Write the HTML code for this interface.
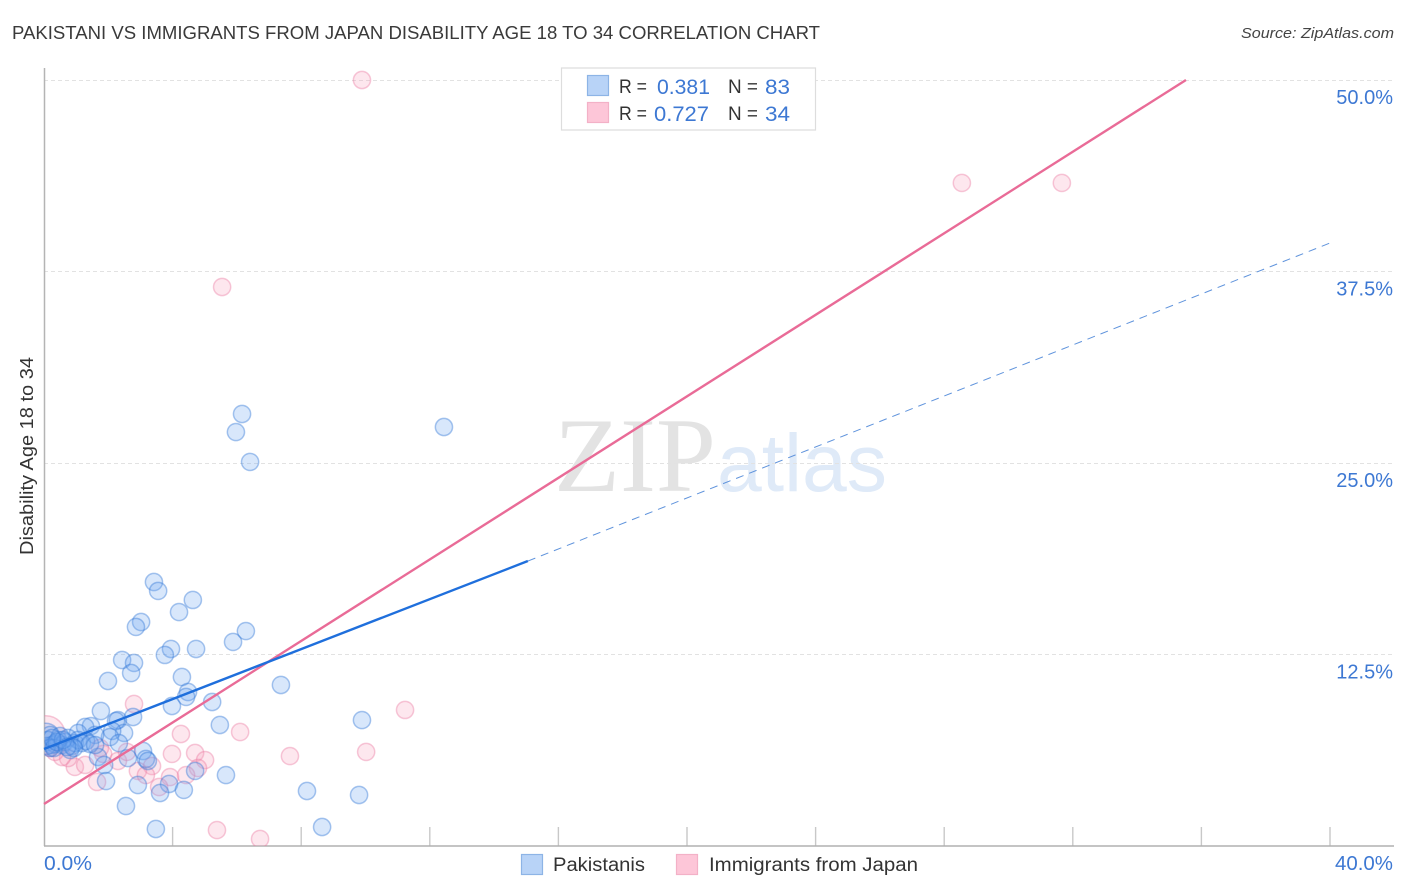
<!DOCTYPE html>
<html lang="en">
<head>
<meta charset="utf-8">
<title>Pakistani vs Immigrants from Japan Disability Age 18 to 34 Correlation Chart</title>
<style>
html,body{margin:0;padding:0;background:#fff;}
svg{display:block;font-family:"Liberation Sans",sans-serif;}
</style>
</head>
<body>
<svg id="chart" width="1406" height="892" viewBox="0 0 1406 892" xmlns="http://www.w3.org/2000/svg">
  <defs>
    <clipPath id="plot-clip"><rect x="44.5" y="60" width="1350" height="786"></rect></clipPath>
  </defs>
  <rect width="1406" height="892" fill="#ffffff"></rect>
  <text x="12" y="39" font-size="18.5" fill="#3a3a3a" textLength="808" lengthAdjust="spacingAndGlyphs">PAKISTANI VS IMMIGRANTS FROM JAPAN DISABILITY AGE 18 TO 34 CORRELATION CHART</text>
  <text x="1241" y="38" font-size="15" font-style="italic" fill="#444444" textLength="153" lengthAdjust="spacingAndGlyphs">Source: ZipAtlas.com</text>
  <text x="554" y="491" font-family="'Liberation Serif',serif" font-size="106" fill="#e3e3e3" textLength="162" lengthAdjust="spacingAndGlyphs">ZIP</text>
  <text x="717" y="491" font-size="82" fill="#dfeaf8" textLength="170" lengthAdjust="spacingAndGlyphs">atlas</text>
  <g id="grid"></g>
  <g id="xticks"></g>
  <line x1="44.5" y1="68" x2="44.5" y2="846" stroke="#b4b4b4" stroke-width="1.5"></line>
  <line x1="44" y1="846" x2="1394" y2="846" stroke="#b0b0b0" stroke-width="1.5"></line>
  <g id="pink-points" clip-path="url(#plot-clip)"></g>
  <g id="blue-points" clip-path="url(#plot-clip)"></g>
  <g id="trends"></g>
  <g id="ylabels"></g>
  <text x="44" y="870" font-size="20" fill="#3d78d3" textLength="48" lengthAdjust="spacingAndGlyphs">0.0%</text>
  <text x="1335" y="870" font-size="20" fill="#3d78d3" textLength="58" lengthAdjust="spacingAndGlyphs">40.0%</text>
  <text transform="translate(33,456) rotate(-90)" font-size="18" fill="#333333" text-anchor="middle" textLength="198" lengthAdjust="spacingAndGlyphs">Disability Age 18 to 34</text>

  <g>
    <rect x="561.5" y="68" width="254" height="62" fill="#ffffff" stroke="#dddddd" stroke-width="1.2"></rect>
    <rect x="587.5" y="75.5" width="21" height="20" fill="#b8d3f7" stroke="#8db4e6" stroke-width="1.2"></rect>
    <rect x="587.5" y="102.5" width="21" height="20" fill="#fdc6d8" stroke="#f3b1c7" stroke-width="1.2"></rect>
    <text x="619" y="93" font-size="19" fill="#333333" textLength="28" lengthAdjust="spacingAndGlyphs">R =</text>
    <text x="657" y="94" font-size="21" fill="#3d78d3" textLength="53" lengthAdjust="spacingAndGlyphs">0.381</text>
    <text x="728" y="93" font-size="19" fill="#333333" textLength="30" lengthAdjust="spacingAndGlyphs">N =</text>
    <text x="765" y="94" font-size="21" fill="#3d78d3" textLength="25" lengthAdjust="spacingAndGlyphs">83</text>
    <text x="619" y="120" font-size="19" fill="#333333" textLength="28" lengthAdjust="spacingAndGlyphs">R =</text>
    <text x="654" y="121" font-size="21" fill="#3d78d3" textLength="55" lengthAdjust="spacingAndGlyphs">0.727</text>
    <text x="728" y="120" font-size="19" fill="#333333" textLength="30" lengthAdjust="spacingAndGlyphs">N =</text>
    <text x="765" y="121" font-size="21" fill="#3d78d3" textLength="25" lengthAdjust="spacingAndGlyphs">34</text>
  </g>

  <g>
    <rect x="521.5" y="854.5" width="21" height="20" fill="#b8d3f7" stroke="#8db4e6" stroke-width="1.2"></rect>
    <text x="553" y="871" font-size="19" fill="#333333" textLength="92" lengthAdjust="spacingAndGlyphs">Pakistanis</text>
    <rect x="676.5" y="854.5" width="21" height="20" fill="#fdc6d8" stroke="#f3b1c7" stroke-width="1.2"></rect>
    <text x="709" y="871" font-size="19" fill="#333333" textLength="209" lengthAdjust="spacingAndGlyphs">Immigrants from Japan</text>
  </g>
</svg>
<script>
const yTicks = [12.5, 25, 37.5, 50];
const yTickLabels = ["12.5%", "25.0%", "37.5%", "50.0%"];
const xTicks = [4, 8, 12, 16, 20, 24, 28, 32, 36, 40];

const blueX = [0.06,6.16,5.97,6.41,12.44,3.42,3.55,4.63,4.20,3.02,2.86,6.28,5.88,3.95,3.76,4.73,2.43,2.80,2.71,1.99,4.29,7.37,4.48,4.42,3.98,5.23,1.77,2.77,2.30,2.24,5.47,9.89,1.46,1.28,1.06,2.49,2.12,2.05,2.33,1.59,3.08,3.17,3.23,2.61,1.68,1.87,1.93,2.92,3.89,3.61,4.35,4.70,5.66,8.18,9.80,2.55,3.48,8.65,0.19,0.12,0.25,0.34,0.44,0.50,0.56,0.65,0.75,0.87,0.96,1.06,1.18,1.31,1.43,1.59,0.81,0.93,0.09,0.19,0.31,0.40,0.59,0.72,0.25];
const blueY = [7.11,28.20,27.02,25.07,27.35,17.23,16.65,16.06,15.27,14.62,14.30,14.03,13.32,12.86,12.47,12.86,12.14,11.95,11.29,10.77,11.03,10.51,10.05,9.73,9.14,9.40,8.81,8.42,8.22,8.16,7.90,8.22,7.83,7.77,7.38,7.38,7.51,7.11,6.72,7.25,6.20,5.68,5.55,5.74,5.81,5.29,4.24,3.98,4.05,3.46,3.66,4.90,4.63,3.59,3.33,2.61,1.11,1.24,7.25,6.92,6.59,6.66,6.92,7.18,6.59,6.79,7.05,6.53,6.72,6.92,6.72,6.85,6.66,6.59,6.27,6.40,6.53,6.40,6.40,6.79,6.92,6.46,7.05];
const blueWeight = [2.6];

const pinkX = [0.06,9.89,28.55,31.66,5.54,2.80,11.23,6.10,4.26,3.98,4.70,10.02,7.65,5.01,3.36,4.79,2.92,3.17,3.92,4.42,3.58,5.38,6.72,2.30,1.84,2.58,1.65,0.96,1.28,0.75,0.56,0.34,0.19,1.74];
const pinkY = [7.25,50,43.28,43.28,36.49,9.27,8.88,7.44,7.31,6.01,6.07,6.14,5.87,5.61,5.22,5.09,4.90,4.63,4.50,4.63,3.85,1.04,0.46,5.55,6.01,6.14,4.18,5.16,5.29,5.74,5.81,6.14,6.40,6.40];
const pinkWeight = [5];

const blueTrendX = [0, 15.05];
const blueTrendY = [6.33, 18.6];
const blueProjectionX = [15.05, 40];
const blueProjectionY = [18.6, 39.36];
const pinkTrendX = [0, 35.52];
const pinkTrendY = [2.74, 50];

const SVGNS = "http://www.w3.org/2000/svg";
function xScale(v) { return 44 + v * 32.15; }
function yScale(v) { return 846 - v * 15.32; }
function make(tag, attrs, parent) {
  const el = document.createElementNS(SVGNS, tag);
  for (const k in attrs) el.setAttribute(k, attrs[k]);
  parent.appendChild(el);
  return el;
}

const gridG = document.getElementById("grid");
const yLabelG = document.getElementById("ylabels");
yTicks.forEach(function (t, i) {
  const y = Math.floor(yScale(t)) + 0.5;
  const g = make("line", {x1: 44, x2: 1394, y1: y, y2: y, stroke: "#e2e2e2", "stroke-width": 1, "stroke-dasharray": "4 3"}, gridG);
  
  
  const lab = make("text", {x: 1393, y: yScale(t) + 24, "font-size": 20, fill: "#3d78d3", "text-anchor": "end"}, yLabelG);
  lab.textContent = yTickLabels[i];
  
  
});

const xTickG = document.getElementById("xticks");
xTicks.forEach(function (t) {
  const x = xScale(t);
  const tk = make("line", {x1: x, x2: x, y1: 827, y2: 846, stroke: "#c8c8c8", "stroke-width": 1.4}, xTickG);
  
  
});

function drawPoints(groupId, xs, ys, weights, fill, stroke) {
  const g = document.getElementById(groupId);
  xs.forEach(function (v, i) {
    const w = weights[i] || 1;
    const c = make("circle", {cx: xScale(v), cy: yScale(ys[i]), r: 8.6 * Math.sqrt(w), fill: fill, stroke: stroke, "stroke-width": 1.5}, g);
    
    
  });
}
drawPoints("pink-points", pinkX, pinkY, pinkWeight, "rgba(248,160,188,0.25)", "rgba(236,120,160,0.4)");
drawPoints("blue-points", blueX, blueY, blueWeight, "rgba(110,165,240,0.27)", "rgba(50,120,215,0.42)");

const trendG = document.getElementById("trends");
const pinkLine = make("line", {x1: xScale(pinkTrendX[0]), y1: yScale(pinkTrendY[0]), x2: xScale(pinkTrendX[1]), y2: yScale(pinkTrendY[1]), stroke: "#e96b97", "stroke-width": 2.4}, trendG);


const blueDash = make("line", {x1: xScale(blueProjectionX[0]), y1: yScale(blueProjectionY[0]), x2: xScale(blueProjectionX[1]), y2: yScale(blueProjectionY[1]), stroke: "#5f93dc", "stroke-width": 1, "stroke-dasharray": "8 6"}, trendG);


const blueLine = make("line", {x1: xScale(blueTrendX[0]), y1: yScale(blueTrendY[0]), x2: xScale(blueTrendX[1]), y2: yScale(blueTrendY[1]), stroke: "#1f6fdc", "stroke-width": 2.4}, trendG);


</script>
</body>
</html>
